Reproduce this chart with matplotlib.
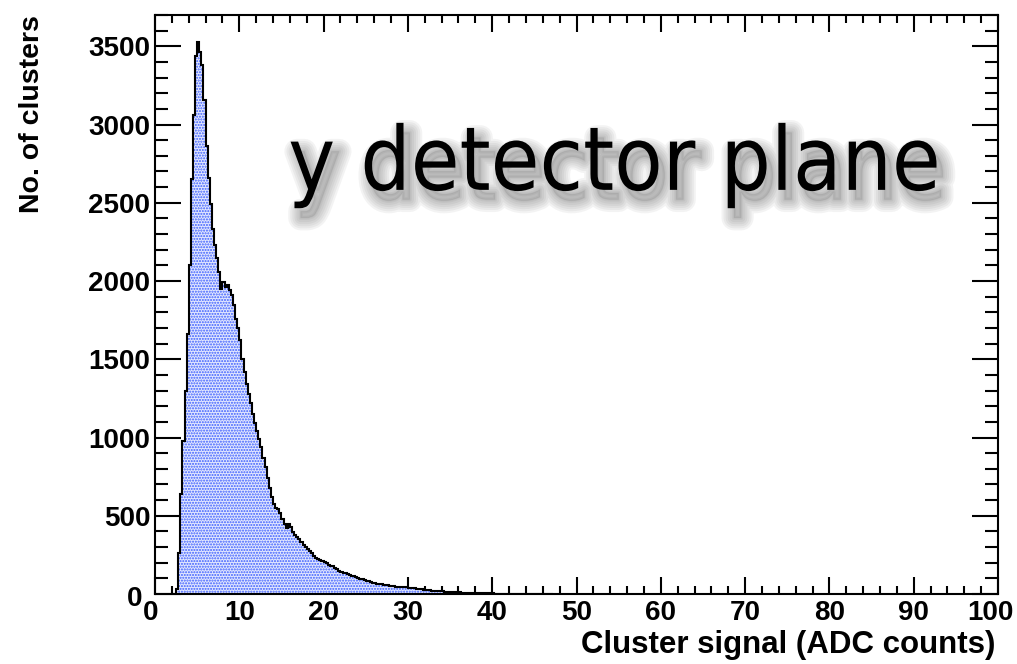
import numpy as np
import matplotlib
matplotlib.use("Agg")
import matplotlib.pyplot as plt
from matplotlib.ticker import MultipleLocator
import matplotlib.patheffects as pe
import matplotlib.transforms as mtransforms
from matplotlib import font_manager as fm

# ---- data ----
bin_start = 2.5
bin_width = 0.25
counts = [
    30, 260, 640, 980, 1300, 1660, 2100, 2650, 3060, 3440,          # 2.50 - 4.75
    3525, 3465, 3380, 3160, 2860, 2660, 2490, 2330, 2230, 2150,     # 5.00 - 7.25
    2060, 1950, 1995, 1965, 1975, 1940, 1910, 1850, 1760, 1700,     # 7.50 - 9.75
    1625, 1500, 1420, 1345, 1280, 1220, 1150, 1090, 1040, 990,      # 10.00 - 12.25
    940, 870, 810, 740, 680, 620, 575, 550, 540, 520,               # 12.50 - 14.75
    480, 450, 420, 445, 430, 395, 375, 365, 350, 330,               # 15.00 - 17.25
    312, 300, 285, 272, 262, 246, 230, 225, 215, 208,               # 17.50 - 19.75
    204, 195, 188, 182, 176, 168, 160, 150, 143, 137,               # 20.00 - 22.25
    132, 126, 121, 118, 112, 108, 104, 98, 93, 88,                  # 22.50 - 24.75
    83, 80, 76, 72, 70, 67, 64, 62, 59, 57,                         # 25.00 - 27.25
    55, 52, 50, 48, 47, 45, 44, 46, 43, 42,                         # 27.50 - 29.75
    40, 38, 37, 36, 34, 31, 30, 28, 27, 25,                         # 30.00 - 32.25
    24, 22, 21, 19, 18, 17, 16, 15, 14, 13,                         # 32.50 - 34.75
    13, 12, 11, 11, 10, 9, 9, 8, 8, 7,                              # 35.00 - 37.25
    7, 6, 6, 6, 5, 5, 5, 4, 4, 4,                                   # 37.50 - 39.75
    4, 3, 3, 3, 3, 2, 3, 2, 2, 2,                                   # 40.00 - 42.25
    2, 2, 1, 2, 1, 1, 1, 1, 1, 1,                                   # 42.50 - 44.75
    1, 0, 1, 0, 1, 0, 0, 1, 0,                                      # 45.00 - 47.00
]
x_range = (0, 100)
y_range = (0, 3700)
x_title = "Cluster signal (ADC counts)"
y_title = "No. of clusters"
plot_label = "y detector plane"

edges = bin_start + bin_width * np.arange(len(counts) + 1)


class SoftShadow(pe.AbstractPathEffect):
    """Blurred-looking drop shadow built from stacked translucent strokes."""

    def __init__(self, offset=(4.5, -7), widths=(18, 15, 12, 9, 6, 3, 1),
                 alpha=0.06, color=(0.25, 0.25, 0.25)):
        super().__init__(offset)
        self.widths = widths
        self.alpha = alpha
        self.color = color

    def draw_path(self, renderer, gc, tpath, affine, rgbFace=None):
        aff = affine + self._offset_transform(renderer)
        for w in self.widths:
            gc0 = renderer.new_gc()
            gc0.copy_properties(gc)
            gc0.set_linewidth(w)
            gc0.set_foreground(self.color)
            gc0.set_alpha(self.alpha)
            gc0.set_joinstyle("round")
            gc0.set_capstyle("round")
            renderer.draw_path(gc0, tpath, aff, None)
            gc0.restore()
        gc0 = renderer.new_gc()
        gc0.copy_properties(gc)
        gc0.set_linewidth(0)
        gc0.set_alpha(self.alpha * 2)
        renderer.draw_path(gc0, tpath, aff, self.color)
        gc0.restore()


# a condensed Verdana-like face if one is installed, otherwise DejaVu Sans
names = {f.name for f in fm.fontManager.ttflist}
stretches = {(f.name, f.stretch) for f in fm.fontManager.ttflist}
if "DejaVu Sans Condensed" in names:
    title_font = dict(family=["DejaVu Sans Condensed"], fontsize=63.5)
elif any(n == "DejaVu Sans" and s == "condensed" for n, s in stretches):
    title_font = dict(family=["DejaVu Sans"], fontstretch="condensed",
                      fontsize=63.5)
else:
    title_font = dict(family=["DejaVu Sans"], fontsize=57)

fig = plt.figure(figsize=(10.17, 6.64), dpi=100)
ax = fig.add_axes([155 / 1017, 70 / 664, 843 / 1017, 579 / 664])

# filled histogram with blue dotted pattern
ax.stairs(counts, edges, fill=True, facecolor="#e3e8fe", edgecolor="#3a5cff",
          linewidth=0, hatch="......", zorder=2)
ax.stairs(counts, edges, fill=False, color="black", linewidth=1.5, zorder=3,
          baseline=0)

ax.set_xlim(*x_range)
ax.set_ylim(*y_range)

lab_family = ["Liberation Sans", "DejaVu Sans"]

ax.xaxis.set_major_locator(MultipleLocator(10))
ax.xaxis.set_minor_locator(MultipleLocator(2))
ax.yaxis.set_major_locator(MultipleLocator(500))
ax.yaxis.set_minor_locator(MultipleLocator(100))

ax.tick_params(axis="both", which="both", direction="in", top=True, right=True,
               width=1.5, colors="black")
ax.tick_params(axis="x", which="major", length=12, pad=4)
ax.tick_params(axis="x", which="minor", length=5.5)
ax.tick_params(axis="y", which="major", length=18.5, pad=3.5)
ax.tick_params(axis="y", which="minor", length=9.3)

for lbl in ax.get_xticklabels() + ax.get_yticklabels():
    lbl.set_fontfamily(lab_family)
    lbl.set_fontweight("bold")
    lbl.set_fontsize(20)


def nudge(axis, value, dx_px, dy_px):
    locs = np.asarray(axis.get_majorticklocs())
    ticks = axis.get_major_ticks(len(locs))
    idx = int(np.argmin(np.abs(locs - value)))
    off = mtransforms.ScaledTranslation(dx_px / 100, dy_px / 100,
                                        fig.dpi_scale_trans)
    lab = ticks[idx].label1
    lab.set_transform(lab.get_transform() + off)


# ROOT nudges the end labels of the axes
nudge(ax.xaxis, x_range[0], -4, 0)     # "0" on x
nudge(ax.xaxis, x_range[1], -8, 0)     # "100" on x
nudge(ax.yaxis, y_range[0], -8, -2)    # "0" on y

for sp in ax.spines.values():
    sp.set_linewidth(1.5)

ax.set_xlabel(x_title, fontsize=22.5, fontweight="bold",
              family=lab_family, ha="right", x=0.997, labelpad=3)
ax.set_ylabel(y_title, fontsize=20.5, fontweight="bold",
              family=lab_family, ha="right", y=1.0, labelpad=31)

# big label with soft drop shadow
ax.text(0.158, 0.698, plot_label, transform=ax.transAxes, color="black",
        ha="left", va="baseline",
        path_effects=[SoftShadow(), pe.Normal()], zorder=5, **title_font)

fig.savefig("out.png", dpi=100)
